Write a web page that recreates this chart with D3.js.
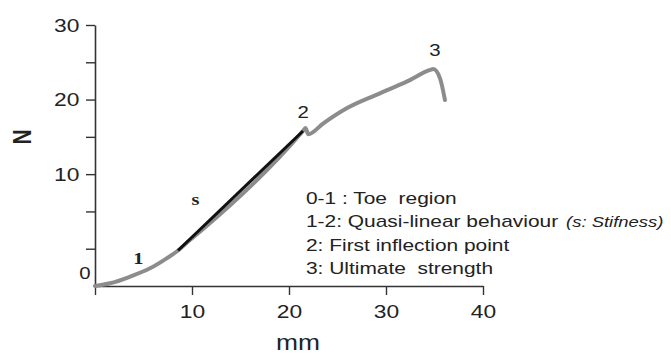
<!DOCTYPE html>
<html>
<head>
<meta charset="utf-8">
<script src="https://cdn.jsdelivr.net/npm/d3@7"></script>
<style>
  body { margin: 0; background: #fff; }
  text { font-family: "Liberation Sans", Arial, sans-serif; fill: #222; }
</style>
</head>
<body>
<div id="chart"></div>
<script>
// displacement (mm) and force (N)
const curveX = [0, 1.55, 3.61, 5.67, 7.39, 8.56, 9.79, 10.82, 21.44, 21.70, 21.99, 23.54, 25.95, 29.38, 32.13, 34.54, 34.88, 35.57, 36.08];
const curveY = [-5, -4.64, -3.75, -2.63, -1.29, -0.24, 1.17, 2.28, 15.79, 16.19, 15.34, 16.82, 18.83, 20.84, 22.40, 23.97, 24.10, 22.85, 19.94];

// stiffness segment (1-2)
const stiffX = [8.56, 21.44];
const stiffY = [-0.24, 15.79];

const xTicks = [0, 10, 20, 30, 40];
const yTicks = [0, 5, 10, 15, 20, 25, 30];
const yLabelled = [10, 20, 30];

const pointLabels = ["0", "1", "s", "2", "3"];
const pointX = [-1.03, 4.46, 10.36, 21.47, 35.05];
const pointY = [-3.26, -1.29, 6.6, 18.37, 26.65];
const serifLabels = ["1", "s"];

const legendLines = ["0-1 : Toe  region", "1-2: Quasi-linear behaviour", "2: First inflection point", "3: Ultimate  strength"];
const legendNote = "(s: Stifness)";

const width = 671, height = 354;
const stretch = 1.2;   // the source picture is a bit wide

const svg = d3.select("#chart").append("svg")
    .attr("width", width)
    .attr("height", height);

const x = d3.scaleLinear().domain([0, 40]).range([95, 483]);
const y = d3.scaleLinear().domain([-5, 30]).range([286, 25]);

// y axis
const yAxis = d3.axisLeft(y)
    .tickValues(yTicks)
    .tickSize(9)
    .tickSizeOuter(0)
    .tickPadding(4)
    .tickFormat(d => yLabelled.includes(d) ? d : "");

const gy = svg.append("g")
    .attr("transform", `translate(${x(0)},0)`)
    .call(yAxis);

// x axis
const xAxis = d3.axisBottom(x)
    .tickValues(xTicks)
    .tickSize(9)
    .tickSizeOuter(0)
    .tickPadding(10)
    .tickFormat(d => d === 0 ? "" : d);

const gx = svg.append("g")
    .attr("transform", `translate(0,${y(-5)})`)
    .call(xAxis);

[gx, gy].forEach(g => {
    g.select(".domain").attr("stroke", "#333").attr("stroke-width", 1.6);
    g.selectAll(".tick line").attr("stroke", "#333").attr("stroke-width", 1.4);
    g.selectAll(".tick text")
        .attr("font-size", 19)
        .attr("fill", "#333")
        .attr("transform", `scale(${stretch},1)`);
});

// axis titles
svg.append("text")
    .attr("transform", `translate(${(x(0) + x(40)) / 2 + 9},350) scale(${stretch},1)`)
    .attr("text-anchor", "middle")
    .attr("font-size", 22)
    .text("mm");

svg.append("text")
    .attr("transform", `translate(22,137) rotate(-90) scale(1,${stretch})`)
    .attr("text-anchor", "middle")
    .attr("dy", "0.35em")
    .attr("font-size", 21)
    .attr("font-weight", "bold")
    .text("N");

// curve
const pts = curveX.map((d, i) => [d, curveY[i]]);
const line = d3.line()
    .curve(d3.curveMonotoneX)
    .x(d => x(d[0]))
    .y(d => y(d[1]));

svg.append("path")
    .attr("d", line(pts))
    .attr("fill", "none")
    .attr("stroke", "#8c8c8c")
    .attr("stroke-width", 4)
    .attr("stroke-linejoin", "round")
    .attr("stroke-linecap", "round");

svg.append("path")
    .attr("d", d3.line().x(d => x(d[0])).y(d => y(d[1]))(stiffX.map((d, i) => [d, stiffY[i]])))
    .attr("fill", "none")
    .attr("stroke", "#111")
    .attr("stroke-width", 3);

// point labels
svg.selectAll(".plabel")
    .data(pointLabels)
    .enter().append("text")
    .attr("class", "plabel")
    .attr("transform", (d, i) => `translate(${x(pointX[i])},${y(pointY[i])}) scale(${stretch},1)`)
    .attr("text-anchor", "middle")
    .attr("dy", "0.35em")
    .attr("font-size", 17)
    .style("font-family", d => serifLabels.includes(d) ? "'Liberation Serif', serif" : null)
    .style("font-weight", d => serifLabels.includes(d) ? "bold" : null)
    .text(d => d);

// legend
const legend = svg.append("g")
    .attr("transform", `translate(306,204) scale(1.23,1)`);

const rows = legend.selectAll("text")
    .data(legendLines)
    .enter().append("text")
    .attr("y", (d, i) => i * 23.5)
    .attr("font-size", 17)
    .attr("xml:space", "preserve")
    .style("white-space", "pre")
    .text(d => d);

rows.filter((d, i) => i === 1)
    .append("tspan")
    .attr("dx", 6.5)
    .attr("font-size", 15)
    .attr("font-style", "italic")
    .text(legendNote);
</script>
</body>
</html>
